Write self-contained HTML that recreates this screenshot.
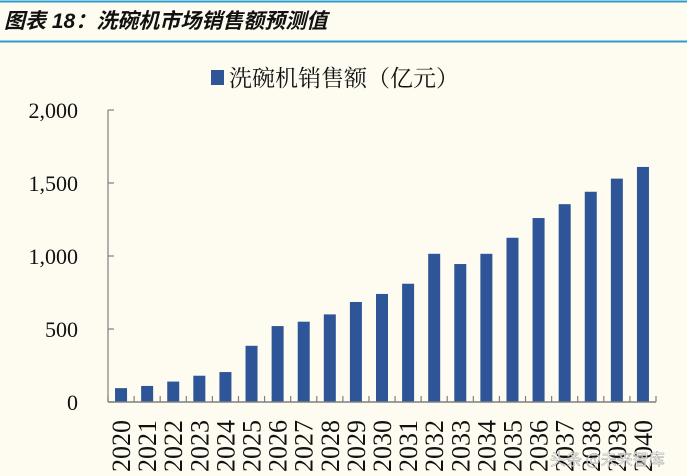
<!DOCTYPE html>
<html><head><meta charset="utf-8"><style>
body{margin:0;background:#fefbf1;}
svg{display:block}
</style></head><body>
<svg width="687" height="476" xmlns="http://www.w3.org/2000/svg">
<rect width="687" height="476" fill="#fefbf1"/>
<line x1="0" y1="1.5" x2="687" y2="1.5" stroke="#2e9bd0" stroke-width="2"/>
<text x="4" y="28" font-family="'Liberation Sans','Noto Sans CJK SC',sans-serif" font-size="21" font-weight="bold" font-style="italic" fill="#111">图表 18：洗碗机市场销售额预测值</text>
<line x1="0" y1="41.5" x2="687" y2="41.5" stroke="#2e9bd0" stroke-width="2"/>
<g>
<rect x="211" y="70" width="13" height="15" fill="#2e5597"/>
<text x="229" y="86" font-family="'Liberation Serif','Noto Serif CJK SC',serif" font-size="23" fill="#111">洗碗机销售额（亿元）</text>
</g>
<g id="yaxis"></g><g id="bars"></g><g id="xaxis"></g>
<text x="550" y="465" font-family="'Noto Sans CJK SC',sans-serif" font-size="16" fill="#fff" stroke="#888" stroke-width="0.4" opacity="0.9">头条 @未来智库</text>
</svg>
<script>
const categories=["2020","2021","2022","2023","2024","2025","2026","2027","2028","2029","2030","2031","2032","2033","2034","2035","2036","2037","2038","2039","2040"];
const sales=[95,110,140,180,205,385,520,550,600,685,740,810,1015,945,1015,1125,1260,1355,1440,1530,1610];
const yTicks=[0,500,1000,1500,2000];
const yTickLabels=["0","500","1,000","1,500","2,000"];
const NS="http://www.w3.org/2000/svg";
const x0=108,x1=656,y0=402,yTop=110,yMax=2000;
const step=(x1-x0)/categories.length;
function y(v){return y0-(v/yMax)*(y0-yTop);}
function xc(i){return x0+step*(i+0.5);}
function mk(t,a,p){const e=document.createElementNS(NS,t);for(const k in a)e.setAttribute(k,a[k]);p.appendChild(e);return e;}
const ya=document.getElementById('yaxis'),bg=document.getElementById('bars'),xa=document.getElementById('xaxis');
const yl=mk('line',{x1:x0,y1:yTop,x2:x0,y2:y0,stroke:'#7f7f7f','stroke-width':1.2},ya);


yTicks.forEach((v,i)=>{
 const tk=mk('line',{x1:x0,y1:y(v),x2:x0+6,y2:y(v),stroke:'#7f7f7f','stroke-width':1.2},ya);
 
 
 const t=mk('text',{x:78,y:y(v)+8,'text-anchor':'end','font-family':"'Liberation Serif',serif",'font-size':22,fill:'#111'},ya);
 t.textContent=yTickLabels[i];
 
 
});
sales.forEach((v,i)=>{
 const r=mk('rect',{x:xc(i)-6,y:y(v),width:12,height:y0-y(v),fill:'#2e5597'},bg);
 
 
});
const xl=mk('line',{x1:x0,y1:y0,x2:x1,y2:y0,stroke:'#7f7f7f','stroke-width':1.5},xa);


for(let i=0;i<=categories.length;i++){
 const tk=mk('line',{x1:x0+step*i,y1:y0,x2:x0+step*i,y2:y0-6,stroke:'#7f7f7f','stroke-width':1.2},xa);
 
 
}
categories.forEach((c,i)=>{
 const t=mk('text',{x:0,y:0,'text-anchor':'end',transform:`translate(${xc(i)+9},${420}) rotate(-90)`,'font-family':"'Liberation Serif',serif",'font-size':26,fill:'#111'},xa);
 t.textContent=c;
 
 
});
</script>
</body></html>
